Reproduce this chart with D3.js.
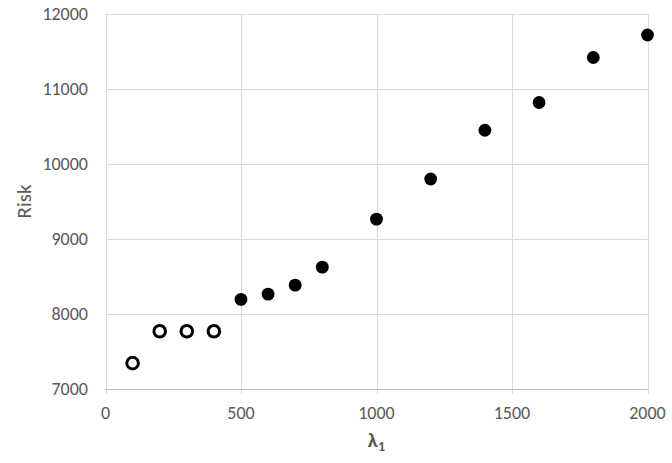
<!DOCTYPE html>
<html><head><meta charset="utf-8">
<script src="https://cdn.jsdelivr.net/npm/d3@7/dist/d3.min.js"></script>
<style>body{margin:0;background:#fff}svg{display:block}</style>
</head><body>
<script>
const openX = [100, 200, 300, 400];
const openY = [7345, 7770, 7770, 7770];
const filledX = [500, 600, 700, 800, 1000, 1200, 1400, 1600, 1800, 2000];
const filledY = [8195, 8265, 8385, 8625, 9265, 9800, 10450, 10820, 11420, 11720];
const xTicks = [0, 500, 1000, 1500, 2000];
const yTicks = [7000, 8000, 9000, 10000, 11000, 12000];

const W = 672, H = 463;
const m = {l: 105.5, r: 647.5, t: 14, b: 389};
const svg = d3.select("body").append("svg").attr("width", W).attr("height", H);
const x = d3.scaleLinear().domain([0, 2000]).range([m.l, m.r]);
const y = d3.scaleLinear().domain([7000, 12000]).range([m.b, m.t]);
const font = "Carlito, 'Open Sans', 'Liberation Sans', sans-serif";

// gridlines
svg.append("g").selectAll("line").data(yTicks).join("line")
  .attr("x1", m.l).attr("x2", m.r).attr("y1", d => Math.round(y(d)) + 0.5).attr("y2", d => Math.round(y(d)) + 0.5)
  .attr("stroke", "#d9d9d9").attr("stroke-width", 1);
svg.append("g").selectAll("line").data(xTicks).join("line")
  .attr("y1", m.t).attr("y2", m.b + 5).attr("x1", d => Math.round(x(d)) + 0.5).attr("x2", d => Math.round(x(d)) + 0.5)
  .attr("stroke", "#d9d9d9").attr("stroke-width", 1);
// axis line
svg.append("line").attr("x1", m.l).attr("x2", m.r).attr("y1", Math.round(m.b) + 0.5).attr("y2", Math.round(m.b) + 0.5)
  .attr("stroke", "#bfbfbf");

// tick labels
svg.append("g").selectAll("text").data(yTicks).join("text")
  .attr("x", 88).attr("y", d => y(d) + 6).attr("text-anchor", "end")
  .attr("font-family", font).attr("font-size", 18).attr("fill", "#595959").text(d => d);
svg.append("g").selectAll("text").data(xTicks).join("text")
  .attr("x", d => x(d)).attr("y", 418.5).attr("text-anchor", "middle")
  .attr("font-family", font).attr("font-size", 18).attr("fill", "#595959").text(d => d);

// axis titles
svg.append("text").attr("transform", `translate(30.5,${(m.t + m.b) / 2}) rotate(-90)`)
  .attr("text-anchor", "middle").attr("font-family", font).attr("font-size", 21).attr("fill", "#595959").text("Risk");
const xt = svg.append("text").attr("x", x(1000)).attr("y", 447).attr("text-anchor", "middle")
  .attr("font-family", font).attr("font-size", 21).attr("font-weight", "bold").attr("fill", "#595959");
xt.append("tspan").text("λ");
xt.append("tspan").attr("font-size", 14).attr("dy", 4).text("1");

// points
svg.append("g").selectAll("circle").data(openX.map((d, i) => [d, openY[i]])).join("circle")
  .attr("cx", d => x(d[0])).attr("cy", d => y(d[1])).attr("r", 5.8)
  .attr("fill", "#fff").attr("stroke", "#000").attr("stroke-width", 3);
svg.append("g").selectAll("circle").data(filledX.map((d, i) => [d, filledY[i]])).join("circle")
  .attr("cx", d => x(d[0])).attr("cy", d => y(d[1])).attr("r", 6.4).attr("fill", "#000");
</script>
</body></html>
